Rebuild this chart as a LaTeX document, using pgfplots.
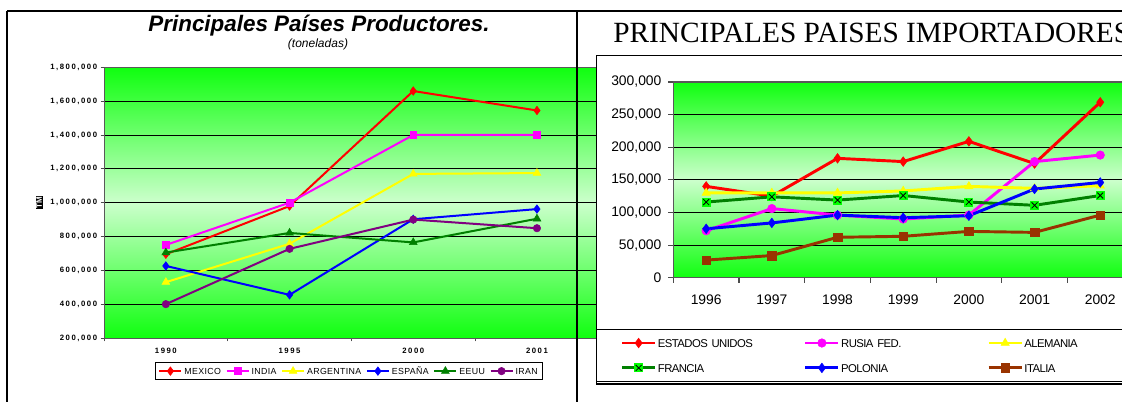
\documentclass[border=0pt]{standalone}
\usepackage{fontspec}
\setmainfont{Liberation Sans}
\newfontfamily\ticksL[LetterSpace=20]{Liberation Sans}
\newfontfamily\legL[LetterSpace=4]{Liberation Sans}
\newfontfamily\legR[LetterSpace=-5]{Liberation Sans}
\newfontfamily\serifT{Liberation Serif}
\usepackage{pgfplots}
\pgfplotsset{compat=1.18}

\definecolor{gtop}{RGB}{16,255,16}
\definecolor{gmid}{RGB}{204,255,204}
\definecolor{cpurple}{RGB}{128,0,128}
\definecolor{cgreen}{RGB}{0,128,0}
\definecolor{cbrown}{RGB}{153,51,0}
\definecolor{clime}{RGB}{0,255,0}
\definecolor{cmag}{RGB}{255,0,255}
\definecolor{cyel}{RGB}{255,255,0}
\definecolor{cred}{RGB}{255,0,0}
\definecolor{cblue}{RGB}{0,0,255}

\pgfdeclareplotmark{sqx}{%
  \begin{pgfscope}%
  \pgfpathrectangle{\pgfpoint{-\pgfplotmarksize}{-\pgfplotmarksize}}{\pgfpoint{2\pgfplotmarksize}{2\pgfplotmarksize}}%
  \pgfsetfillcolor{clime}\pgfusepathqfill
  \pgfpathmoveto{\pgfpoint{-0.65\pgfplotmarksize}{-0.65\pgfplotmarksize}}%
  \pgfpathlineto{\pgfpoint{0.65\pgfplotmarksize}{0.65\pgfplotmarksize}}%
  \pgfpathmoveto{\pgfpoint{-0.65\pgfplotmarksize}{0.65\pgfplotmarksize}}%
  \pgfpathlineto{\pgfpoint{0.65\pgfplotmarksize}{-0.65\pgfplotmarksize}}%
  \pgfsetstrokecolor{black}\pgfsetlinewidth{0.6pt}\pgfusepathqstroke
  \end{pgfscope}%
}

\begin{document}
\begin{tikzpicture}
\useasboundingbox (0,0) rectangle (841.5pt,-301.5pt);
\clip (0,0) rectangle (841.5pt,-301.5pt);

% ---------------- Left chart ----------------
\begin{axis}[
  at={(78pt,-253.5pt)}, anchor=south west,
  scale only axis, width=371.1pt, height=203pt,
  xmin=-0.5, xmax=3.5, ymin=200000, ymax=1800000,
  scaled y ticks=false, scaled x ticks=false,
  xtick={0,1,2,3}, xticklabels={1990,1995,2000,2001},
  minor xtick={-0.5,0.5,1.5,2.5,3.5},
  ytick={200000,400000,600000,800000,1000000,1200000,1400000,1600000,1800000},
  yticklabels={{200,000},{400,000},{600,000},{800,000},{1,000,000},{1,200,000},{1,400,000},{1,600,000},{1,800,000}},
  tick align=outside, xtick pos=bottom, ytick pos=left,
  major x tick style={draw=none},
  major tick length=2.5pt, minor tick length=2.5pt,
  tick style={gray!60!black, line width=0.6pt},
  ymajorgrids, major grid style={black, line width=0.6pt},
  axis line style={gray!70!black, line width=0.6pt},
  axis background/.style={top color=gtop, bottom color=gtop, middle color=gmid},
  tick label style={font=\ticksL\bfseries\fontsize{5.8}{6}\selectfont, text=black},
  xticklabel style={anchor=center, yshift=-7pt},
  yticklabel style={inner xsep=2.5pt},
  ylabel={\bfseries TM},
  ylabel style={at={(axis description cs:-0.131,0.5)}, anchor=center, rotate=0,
    fill=black, text=white, font=\fontsize{6}{6}\selectfont, inner sep=0.6pt},
  legend columns=6,
  legend image code/.code={\draw[mark repeat=2,mark phase=2,#1] plot coordinates {(0pt,0pt) (8.25pt,0pt) (16.5pt,0pt)};},
  legend style={at={(0.4952,-0.1219)}, anchor=center, draw=black, line width=0.6pt, fill=white,
    font=\legL\fontsize{6.6}{7}\selectfont, inner xsep=2pt, inner ysep=2.9pt,
    nodes={inner xsep=1.5pt, inner ysep=0pt, text height=4.7pt, text depth=0pt},
    /tikz/every even column/.append style={column sep=2pt}},
]
\addplot[cred, line width=1.5pt, mark=diamond*, mark size=3.2pt, mark options={solid,line width=0.4pt}]
  coordinates {(0,695000)(1,980000)(2,1660000)(3,1545000)};
\addlegendentry{MEXICO}
\addplot[cmag, line width=1.5pt, mark=square*, mark size=2.6pt, mark options={solid,line width=0.4pt}]
  coordinates {(0,750000)(1,1000000)(2,1400000)(3,1400000)};
\addlegendentry{INDIA}
\addplot[cyel, line width=1.5pt, mark=triangle*, mark size=3.4pt, mark options={solid,line width=0.4pt}]
  coordinates {(0,530000)(1,757000)(2,1170000)(3,1175000)};
\addlegendentry{ARGENTINA}
\addplot[cblue, line width=1.5pt, mark=diamond*, mark size=3.2pt, mark options={solid,line width=0.4pt}]
  coordinates {(0,626000)(1,455000)(2,902000)(3,962000)};
\addlegendentry{ESPAÑA}
\addplot[cgreen, line width=1.5pt, mark=triangle*, mark size=3.4pt, mark options={solid,line width=0.4pt}]
  coordinates {(0,705000)(1,821000)(2,765000)(3,905000)};
\addlegendentry{EEUU}
\addplot[cpurple, line width=1.5pt, mark=*, mark size=2.8pt, mark options={solid,line width=0.4pt}]
  coordinates {(0,400000)(1,727000)(2,900000)(3,849000)};
\addlegendentry{IRAN}
\end{axis}

\node[anchor=base, font=\bfseries\itshape\fontsize{16.8}{20}\selectfont] at (239.25pt,-23.8pt) {Principales Países Productores.};
\node[anchor=base, font=\itshape\fontsize{9}{10}\selectfont] at (238.5pt,-35.8pt) {(toneladas)};

% frame lines
\draw[black, line width=1.5pt] (5.6pt,-8.6pt) -- (845pt,-8.6pt);
\draw[black, line width=1.5pt] (5.6pt,-8.6pt) -- (5.6pt,-305pt);
\draw[black, line width=1.5pt] (432.75pt,-8.6pt) -- (432.75pt,-305pt);

% ---------------- Right chart box ----------------
\draw[black, line width=0.9pt, fill=white] (447.5pt,-41.8pt) rectangle (850pt,-288pt);
\node[anchor=base west, inner sep=0pt, font=\serifT\fontsize{22}{24}\selectfont] at (459.75pt,-32pt) {PRINCIPALES PAISES IMPORTADORES};

\begin{axis}[
  at={(505pt,-208.3pt)}, anchor=south west,
  scale only axis, width=344.8pt, height=146.8pt,
  xmin=-0.5, xmax=6.5, ymin=0, ymax=300000,
  scaled y ticks=false, scaled x ticks=false,
  xtick={0,1,2,3,4,5,6}, xticklabels={1996,1997,1998,1999,2000,2001,2002},
  minor xtick={-0.5,0.5,1.5,2.5,3.5,4.5,5.5,6.5},
  ytick={0,50000,100000,150000,200000,250000,300000},
  yticklabels={0,{50,000},{100,000},{150,000},{200,000},{250,000},{300,000}},
  tick align=outside, xtick pos=bottom, ytick pos=left,
  major x tick style={draw=none},
  major tick length=3.75pt, minor tick length=3.75pt,
  tick style={gray!60!black, line width=0.8pt},
  ymajorgrids, major grid style={black, line width=0.6pt},
  axis line style={gray!70!black, line width=0.8pt},
  axis background/.style={top color=gtop, bottom color=gtop, middle color=gmid},
  tick label style={font=\fontsize{10.4}{12}\selectfont, text=black},
  xticklabel style={anchor=center, yshift=-13pt},
  yticklabel style={inner xsep=5pt},
  legend columns=3, legend cell align=left,
  legend image code/.code={\draw[mark repeat=2,mark phase=2,#1] plot coordinates {(0pt,0pt) (12.4pt,0pt) (24.75pt,0pt)};},
  legend style={at={(-0.168,-0.262)}, anchor=north west, draw=black, line width=0.8pt, fill=white,
    font=\legR\fontsize{8.5}{9}\selectfont, inner xsep=18pt, inner ysep=6.5pt, row sep=11.5pt,
    nodes={inner xsep=1pt, inner ysep=0pt, text height=6.2pt, text depth=0pt, text width=107pt, align=left},
    /tikz/every even column/.append style={column sep=1.5pt}},
]
\addplot[cred, line width=2.2pt, mark=diamond*, mark size=3.6pt, mark options={solid,line width=0.4pt}]
  coordinates {(0,140000)(1,125000)(2,183000)(3,178000)(4,209000)(5,175000)(6,269000)};
\addlegendentry{ESTADOS UNIDOS}
\addplot[cmag, line width=2.2pt, mark=*, mark size=3.2pt, mark options={solid,line width=0.4pt}]
  coordinates {(0,72000)(1,106000)(2,96000)(3,90000)(4,96000)(5,178000)(6,188000)};
\addlegendentry{RUSIA FED.}
\addplot[cyel, line width=2.2pt, mark=triangle*, mark size=3.6pt, mark options={solid,line width=0.4pt}]
  coordinates {(0,130000)(1,130000)(2,130000)(3,133000)(4,140000)(5,137000)(6,141000)};
\addlegendentry{ALEMANIA}
\addplot[cgreen, line width=2.2pt, mark=sqx, mark size=3.4pt, mark options={solid}]
  coordinates {(0,116000)(1,124000)(2,119000)(3,126000)(4,116000)(5,111000)(6,126000)};
\addlegendentry{FRANCIA}
\addplot[cblue, line width=2.2pt, mark=diamond*, mark size=3.6pt, mark options={solid,line width=0.4pt}]
  coordinates {(0,75000)(1,84000)(2,96000)(3,92000)(4,95000)(5,136000)(6,146000)};
\addlegendentry{POLONIA}
\addplot[cbrown, line width=2.2pt, mark=square*, mark size=3.2pt, mark options={solid,line width=0.4pt}]
  coordinates {(0,27000)(1,34000)(2,62000)(3,63500)(4,71000)(5,69500)(6,96000)};
\addlegendentry{ITALIA}
\end{axis}
\end{tikzpicture}
\end{document}
